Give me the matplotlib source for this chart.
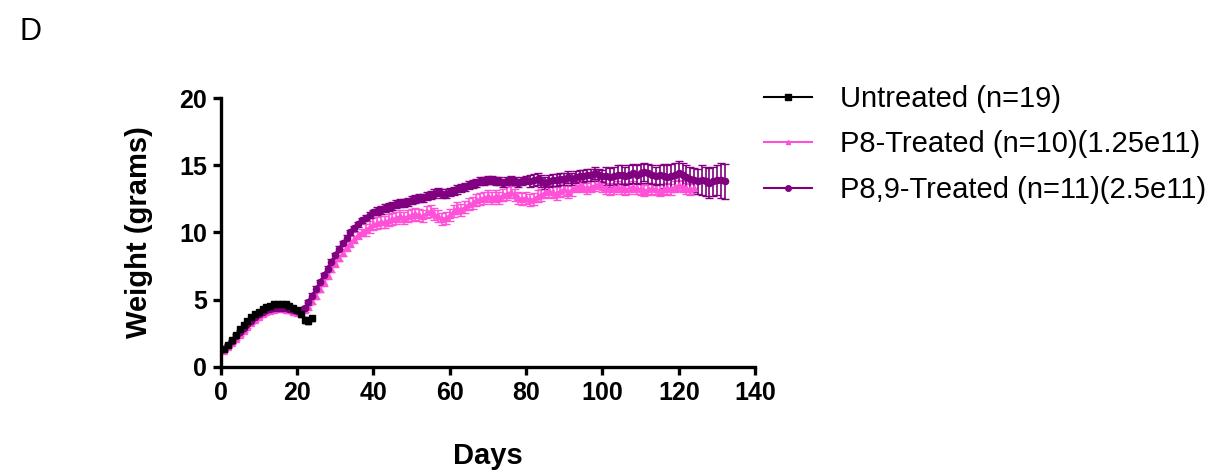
import numpy as np
import matplotlib.pyplot as plt
from matplotlib.lines import Line2D

plt.rcParams['font.family'] = ['Liberation Sans', 'DejaVu Sans']

# mean weight per day (grams) and SEM
untreated = [1.3, 1.6, 2.0, 2.4, 2.8, 3.1, 3.4, 3.7, 3.9, 4.1, 4.3, 4.45,
             4.55, 4.65, 4.7, 4.7, 4.65, 4.55, 4.4, 4.2, 3.9, 3.5, 3.4, 3.6]
untreated_err = [0.1, 0.1, 0.12, 0.12, 0.15, 0.15, 0.15, 0.15, 0.15, 0.15, 0.15, 0.15,
                 0.15, 0.15, 0.15, 0.15, 0.15, 0.15, 0.15, 0.2, 0.2, 0.2, 0.2, 0.2]

p8 = [1.2, 1.5, 1.8, 2.1, 2.4, 2.7, 3.0, 3.3, 3.5, 3.7, 3.9, 4.05, 4.15, 4.25, 4.3,
      4.3, 4.25, 4.2, 4.1, 4.0, 4.0, 4.2, 4.5, 4.9, 5.3, 5.8, 6.3, 6.8, 7.3, 7.7,
      8.1, 8.5, 8.9, 9.2, 9.5, 9.8, 10.0, 10.2, 10.4, 10.6, 10.7, 10.8, 10.8, 10.9, 11.0,
      11.1, 11.2, 11.1, 11.2, 11.3, 11.4, 11.3, 11.2, 11.5, 11.6, 11.4, 11.2, 11.0, 11.1, 11.3,
      11.6, 11.8, 11.7, 11.9, 12.1, 12.2, 12.4, 12.5, 12.6, 12.7, 12.6, 12.7, 12.6, 12.8, 12.9,
      13.0, 12.8, 12.6, 12.5, 12.6, 12.4, 12.5, 12.7, 12.8, 13.0, 13.1, 13.0, 12.9, 13.1, 13.2,
      13.0, 13.2, 13.4, 13.5, 13.4, 13.3, 13.4, 13.5, 13.6, 13.4, 13.3, 13.2, 13.3, 13.4, 13.3,
      13.2, 13.3, 13.4, 13.3, 13.2, 13.1, 13.2, 13.3, 13.2, 13.1, 13.2, 13.3, 13.2, 13.4, 13.5,
      13.4, 13.3, 13.2, 13.3]
p8_err = [0.1] * 10 + [0.15] * 12 + [0.25] * 15 + [0.45] * 25 + [0.45] * 30 + [0.4] * 32

p89 = [1.3, 1.6, 1.9, 2.3, 2.6, 2.9, 3.2, 3.45, 3.7, 3.9, 4.05, 4.2, 4.3, 4.35, 4.4,
       4.4, 4.35, 4.3, 4.2, 4.15, 4.2, 4.4, 4.8, 5.3, 5.8, 6.3, 6.8, 7.3, 7.8, 8.3,
       8.8, 9.2, 9.6, 10.0, 10.3, 10.6, 10.9, 11.1, 11.3, 11.5, 11.6, 11.7, 11.8, 11.9, 12.0,
       12.1, 12.2, 12.2, 12.3, 12.4, 12.5, 12.6, 12.6, 12.7, 12.8, 12.9, 13.0, 12.9, 12.9, 13.0,
       13.1, 13.2, 13.3, 13.4, 13.5, 13.6, 13.7, 13.8, 13.8, 13.9, 13.9, 13.8, 13.8, 13.7, 13.8,
       13.9, 13.8, 13.7, 13.8, 13.9, 13.8, 13.9, 14.0, 13.8, 13.7, 13.8, 13.9, 13.9, 14.0, 14.0,
       14.1, 14.0, 14.1, 14.2, 14.2, 14.3, 14.3, 14.4, 14.3, 14.2, 14.2, 14.1, 14.2, 14.3, 14.3,
       14.2, 14.3, 14.4, 14.3, 14.4, 14.5, 14.4, 14.3, 14.2, 14.3, 14.2, 14.1, 14.2, 14.3, 14.4,
       14.3, 14.1, 14.0, 13.9, 13.8, 13.9, 13.8, 13.7, 13.8, 13.9, 13.9, 13.8]
p89_err = ([0.12] * 22 + [0.2] * 18 + [0.3] * 40 + [0.45] * 20
           + [0.7] * 15 + [0.9] * 10 + [1.1] * 5 + [1.3] * 2)

labels = ['Untreated (n=19)', 'P8-Treated (n=10)(1.25e11)', 'P8,9-Treated (n=11)(2.5e11)']

days_u = np.arange(1, len(untreated) + 1)
days_p8 = np.arange(1, len(p8) + 1)
days_p89 = np.arange(1, len(p89) + 1)

pink = '#FF50D8'
purple = '#800080'

fig = plt.figure(figsize=(12.26, 4.74), dpi=100)
ax = fig.add_axes([0.180, 0.226, 0.436, 0.567])

ax.errorbar(days_p8, p8, yerr=p8_err, color=pink, marker='^', ms=4,
            lw=1.5, elinewidth=1.2, capsize=3)
ax.errorbar(days_p89, p89, yerr=p89_err, color=purple, marker='o', ms=4.5,
            lw=1.8, elinewidth=1.2, capsize=3)
ax.errorbar(days_u, untreated, yerr=untreated_err, color='black', marker='s', ms=4,
            lw=1.5, elinewidth=1.2, capsize=2.5)

ax.set_xlim(0, 140)
ax.set_ylim(0, 20)
ax.set_xticks(range(0, 141, 20))
ax.set_yticks(range(0, 21, 5))
for s in ['top', 'right']:
    ax.spines[s].set_visible(False)
for s in ['left', 'bottom']:
    ax.spines[s].set_linewidth(2.4)
ax.tick_params(width=2.4, length=6, labelsize=18, pad=4)
for lab in ax.get_xticklabels() + ax.get_yticklabels():
    lab.set_fontweight('bold')
ax.set_xlabel('Days', fontsize=21, fontweight='bold', labelpad=27)
ax.set_ylabel('Weight (grams)', fontsize=21, fontweight='bold', labelpad=19)

handles = [Line2D([], [], color='black', marker='s', ms=4, lw=1.5),
           Line2D([], [], color=pink, marker='^', ms=3, lw=1.5),
           Line2D([], [], color=purple, marker='o', ms=4, lw=1.5)]
fig.legend(handles, labels, loc='upper left', bbox_to_anchor=(0.611, 0.852),
           frameon=False, borderpad=0, fontsize=21, handlelength=1.65,
           handletextpad=0.95, labelspacing=0.6)

fig.text(0.016, 0.915, 'D', fontsize=22)

fig.savefig('out.png', dpi=100)
